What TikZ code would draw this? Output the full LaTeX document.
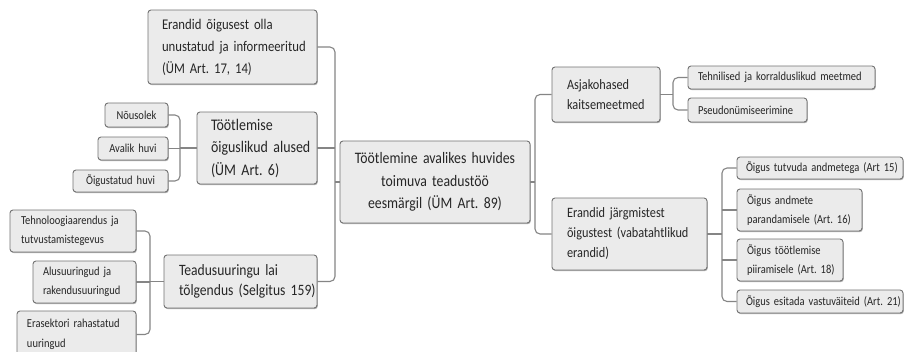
\documentclass[tikz,border=0pt]{standalone}
\usepackage{fontspec}
\setmainfont[FakeStretch=0.86]{Carlito}
\usetikzlibrary{shadows}
\frenchspacing
\newcommand\fntC{\fontsize{16}{22.5}\selectfont}
\newcommand\fntL{\fontsize{14.8}{22}\selectfont}
\newcommand\fntM{\fontsize{16.2}{22.5}\selectfont}
\newcommand\fntN{\fontsize{15.8}{20}\selectfont}
\newcommand\fntR{\fontsize{14.3}{20}\selectfont}
\newcommand\fntS{\fontsize{12.2}{19.5}\selectfont}
\newcommand\ml[1]{\mbox{#1}}
\newcommand\mybox[8]{%
  \pgfmathsetmacro\mbW{#4-#2}\pgfmathsetmacro\mbH{#5-#3}%
  \pgfmathsetmacro\mbT{#4-#2-2*#7}%
  \pgfmathsetmacro\mbX{(#2+#4)/2}\pgfmathsetmacro\mbY{(#3+#5)/2}%
  \node[box,#6,inner xsep=#7pt,minimum width=\mbW pt,minimum height=\mbH pt,text width=\mbT pt] (#1) at (\mbX,\mbY) {\frenchspacing #8};}
\tikzset{
  box/.style={draw=black!55,fill=black!8,line width=0.9pt,rounded corners=3pt,
    inner ysep=1pt,align=left,text=black!85,
    drop shadow={shadow xshift=0.8pt,shadow yshift=-1.1pt,fill=black!45,opacity=0.7}},
  conn/.style={draw=black!48,line width=1.1pt,rounded corners=5pt},
}
\begin{document}
\begin{tikzpicture}[x=1pt,y=-1pt]
\useasboundingbox (0,0) rectangle (905,351);
\clip (0,0) rectangle (905,351);
\fill[white] (0,0) rectangle (905,351);
% center
\mybox{C}{340}{141}{530}{223}{align=center,font=\fntC}{8}{\ml{Töötlemine avalikes huvides}\\\ml{toimuva teadustöö}\\\ml{eesmärgil (ÜM Art. 89)}}
% left main
\mybox{L1}{148}{10}{317}{84}{font=\fntL}{14}{\ml{Erandid õigusest olla}\\\ml{unustatud ja informeeritud}\\\ml{(ÜM Art. 17, 14)}}
\mybox{L2}{197}{112}{317}{184}{font=\fntM}{14}{\ml{Töötlemise}\\\ml{õiguslikud alused}\\\ml{(ÜM Art. 6)}}
\mybox{L3}{164}{255}{317}{308}{font=\fntN}{15}{\ml{Teadusuuringu lai}\\\ml{tõlgendus (Selgitus 159)}}
% left subs
\mybox{S1}{105}{103}{168}{127}{align=center,font=\fntS}{4}{\ml{Nõusolek}}
\mybox{S2}{98}{137}{168}{160}{align=center,font=\fntS}{4}{\ml{Avalik huvi}}
\mybox{S3}{73}{170}{168}{192}{align=center,font=\fntS}{4}{\ml{Õigustatud huvi}}
\mybox{T1}{10}{210}{136}{252}{font=\fntS}{11}{\ml{Tehnoloogiaarendus ja}\\\ml{tutvustamistegevus}}
\mybox{T2}{33}{261}{136}{303}{font=\fntS}{10}{\ml{Alusuuringud ja}\\\ml{rakendusuuringud}}
\mybox{T3}{17}{311}{136}{358}{font=\fntS}{10}{\ml{Erasektori rahastatud}\\\ml{uuringud}}
% right main
\mybox{R1}{552}{67}{660}{122}{font=\fntR}{15}{\ml{Asjakohased}\\\ml{kaitsemeetmed}}
\mybox{R2}{552}{198}{707}{270}{font=\fntR}{15}{\ml{Erandid järgmistest}\\\ml{õigustest (vabatahtlikud}\\\ml{erandid)}}
% right subs
\mybox{A1}{688}{66}{875}{89}{font=\fntS}{10}{\ml{Tehnilised ja korralduslikud meetmed}}
\mybox{A2}{688}{98}{807}{122}{font=\fntS}{10}{\ml{Pseudonümiseerimine}}
\mybox{B1}{737}{157}{903}{179}{font=\fntS}{9}{\ml{Õigus tutvuda andmetega (Art 15)}}
\mybox{B2}{737}{189}{862}{231}{font=\fntS}{10}{\ml{Õigus andmete}\\\ml{parandamisele (Art. 16)}}
\mybox{B3}{737}{239}{843}{281}{font=\fntS}{10}{\ml{Õigus töötlemise}\\\ml{piiramisele (Art. 18)}}
\mybox{B4}{737}{290}{903}{313}{font=\fntS}{9}{\ml{Õigus esitada vastuväiteid (Art. 21)}}
% junctions
\coordinate (jL) at (335,182);
\coordinate (jR) at (535,182);
\coordinate (jS) at (180,148);
\coordinate (jT) at (150,281.5);
\coordinate (jA) at (673,94.5);
\coordinate (jB) at (722,234);
% connectors
\draw[conn] (C.west) -- (jL);
\draw[conn] (L1.east) -| (jL) |- (L3.east);
\draw[conn] (L2.east) -- (L2.east -| jL);
\draw[conn] (C.east) -- (jR);
\draw[conn] (R1.west) -| (jR) |- (R2.west);
\draw[conn] (L2.west) -- (jS);
\draw[conn] (S1.east) -| (jS) |- (S3.east);
\draw[conn] (S2.east) -- (S2.east -| jS);
\draw[conn] (L3.west) -- (jT);
\draw[conn] (T1.east) -| (jT) |- (T3.east);
\draw[conn] (T2.east) -- (T2.east -| jT);
\draw[conn] (R1.east) -- (jA);
\draw[conn] (A1.west) -| (jA) |- (A2.west);
\draw[conn] (R2.east) -- (jB);
\draw[conn] (B1.west) -| (jB) |- (B4.west);
\draw[conn] (B2.west) -- (B2.west -| jB);
\draw[conn] (B3.west) -- (B3.west -| jB);
\end{tikzpicture}
\end{document}
